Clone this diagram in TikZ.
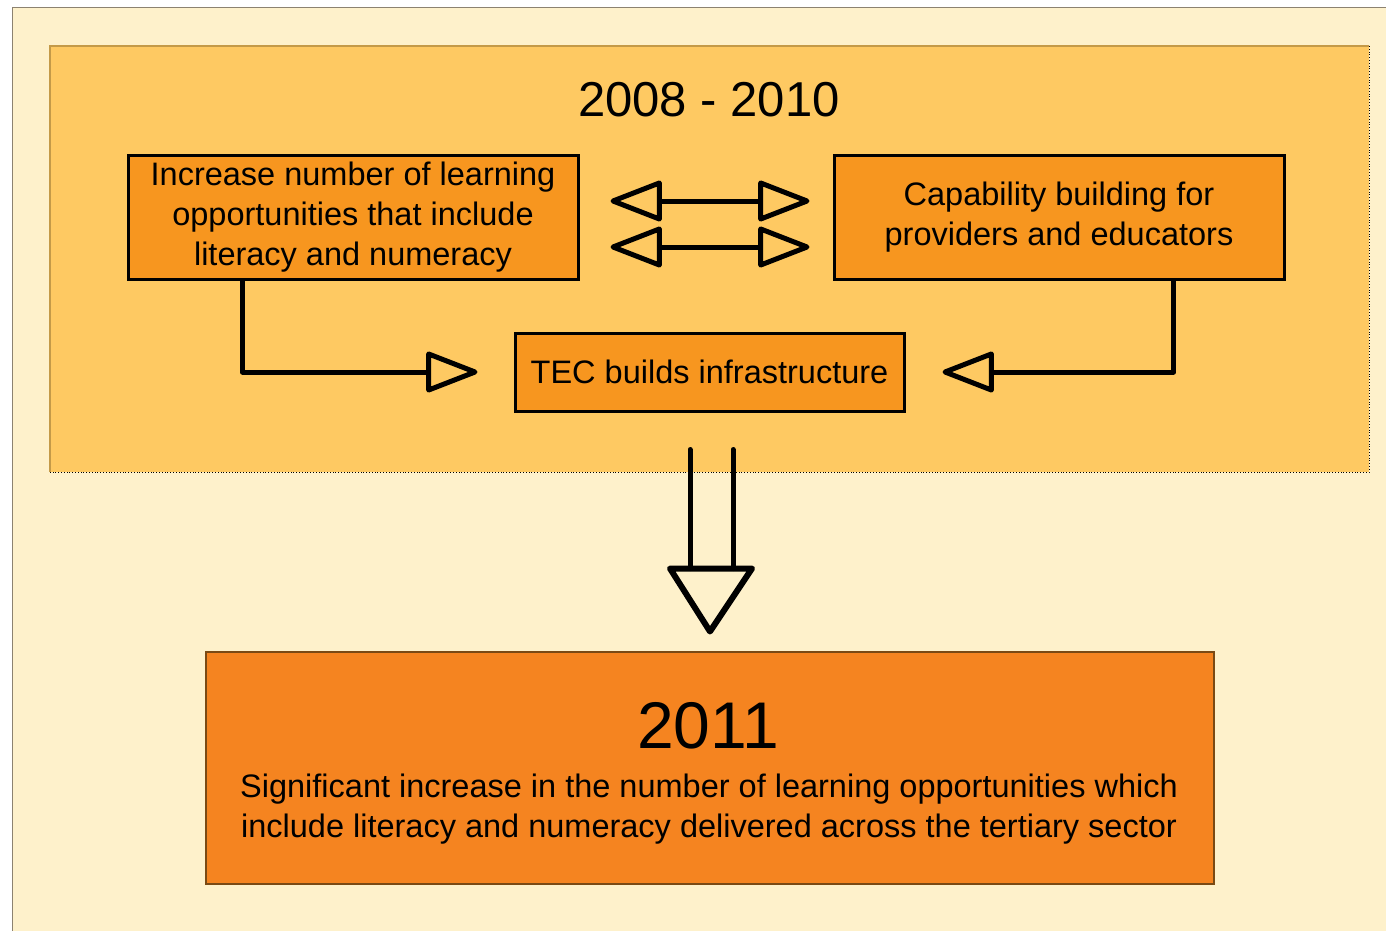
\documentclass[tikz,border=0pt]{standalone}
\usepackage{fontspec}
\setmainfont{Liberation Sans}
\usetikzlibrary{arrows.meta,calc}
\definecolor{pale}{HTML}{FEF1CB}
\definecolor{mid}{HTML}{FEC962}
\definecolor{boxor}{HTML}{F7961F}
\definecolor{botor}{HTML}{F58420}
\definecolor{frame}{HTML}{8C8270}
\definecolor{midframe}{HTML}{C49A48}
\definecolor{botframe}{HTML}{7A4A14}
\begin{document}
\begin{tikzpicture}[x=1pt,y=-1pt,
  box/.style={draw=black,line width=3pt,fill=boxor,inner sep=0pt,align=center,
    font=\fontsize{32.5}{40}\selectfont},
  conn/.style={line width=5pt,line join=round,line cap=round,-{Triangle[open,round,length=56pt,width=42pt]}},
  dbl/.style={line width=5pt,line join=round,line cap=round,
    {Triangle[open,round,length=56pt,width=42pt]}-{Triangle[open,round,length=56pt,width=42pt]}},
  bigarrow/.style={line width=5pt,line join=round,line cap=round}]
\useasboundingbox (0,0) rectangle (1386,931);
\fill[white] (0,0) rectangle (1386,931);
\fill[pale] (12,8) rectangle (1386,931);
\draw[frame,line width=1pt] (12,931) -- (12,8) -- (1386,8);
\fill[mid] (50,46) rectangle (1369,472);
\draw[midframe,line width=1.2pt] (50,472) -- (50,46) -- (1369,46);
\draw[black,line width=0.8pt,dotted] (1369,46) -- (1369,472) -- (50,472);
\node[font=\fontsize{49}{55}\selectfont] (title) at (709,100) {2008 - 2010};
\node[box,minimum width=450pt,minimum height=124pt] (b1) at (353,217)
  {Increase number of learning\\opportunities that include\\literacy and numeracy};
\node[box,minimum width=450pt,minimum height=124pt] (b2) at (1059,217)
  {Capability building for\\providers and educators};
\node[box,minimum width=389pt,minimum height=78pt] (b3) at (709.5,372)
  {TEC builds infrastructure};
\draw[dbl] ($(b1.east)+(31,-16)$) -- ($(b2.west)+(-23,-16)$);
\draw[dbl] ($(b1.east)+(31,30)$) -- ($(b2.west)+(-23,30)$);
\draw[conn] ($(b1.south west)+(116,0)$) |- ($(b3.west)+(-36,0)$);
\draw[conn] ($(b2.south west)+(341,0)$) |- ($(b3.east)+(37,0)$);
\node[draw=botframe,line width=1.5pt,fill=botor,minimum width=1008pt,minimum height=232pt,inner sep=0pt] (b4) at (710,768) {};
\coordinate (ta) at ($(b3.south)+(-19.5,37)$);
\coordinate (tb) at ($(b3.south)+(23.5,37)$);
\coordinate (tc) at ($(b3.south)+(-19.5,156)$);
\coordinate (td) at ($(b3.south)+(23.5,156)$);
\coordinate (bl) at ($(b3.south)+(-39.5,156)$);
\coordinate (br) at ($(b3.south)+(42.5,156)$);
\coordinate (bt) at ($(b3.south)+(0.5,219)$);
\draw[bigarrow] (ta) -- (tc) (tb) -- (td);
\draw[bigarrow,line width=6pt] (bl) -- (br) -- (bt) -- cycle;
\node[font=\fontsize{66}{72}\selectfont] (y2011) at (708,726) {2011};
\node[align=center,font=\fontsize{32.5}{40}\selectfont] (ytext) at (709,809)
  {Significant increase in the number of learning opportunities which\\include literacy and numeracy delivered across the tertiary sector};
\end{tikzpicture}
\end{document}
